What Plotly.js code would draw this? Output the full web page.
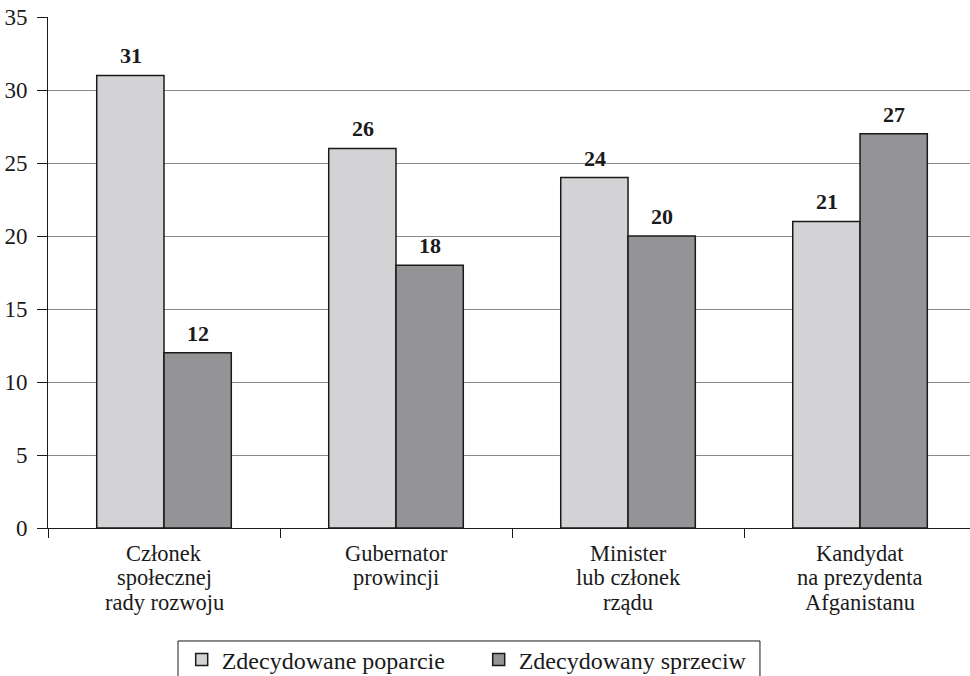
<!DOCTYPE html>
<html>
<head>
<meta charset="utf-8">
<script src="https://cdn.plot.ly/plotly-3.0.1.min.js"></script>
<style>html,body{margin:0;padding:0;background:#fff;overflow:hidden;}#chart{width:970px;height:690px;}</style>
</head>
<body>
<div id="chart"></div>
<script>
const categories = [
  "Członek<br>społecznej<br>rady rozwoju",
  "Gubernator<br>prowincji",
  "Minister<br>lub członek<br>rządu",
  "Kandydat<br>na prezydenta<br>Afganistanu"
];
const seriesNames = ["Zdecydowane poparcie", "Zdecydowany sprzeciw"];
const support = [31, 26, 24, 21];
const opposition = [12, 18, 20, 27];
const yTicks = [0, 5, 10, 15, 20, 25, 30, 35];

const font = "Liberation Serif";
const ink = "#1a1a1a";
const colors = ["#d3d3d5", "#949497"];

const traces = [support, opposition].map((vals, i) => ({
  type: "bar",
  name: seriesNames[i],
  x: categories,
  y: vals,
  marker: {color: colors[i], line: {color: ink, width: 1.5}},
  hoverinfo: "skip"
}));

const annotations = [];
// value labels above bars
[support, opposition].forEach((vals, i) => {
  vals.forEach((v, j) => {
    annotations.push({
      x: categories[j], y: v, xref: "x", yref: "y",
      text: "<b>" + v + "</b>", showarrow: false,
      xshift: i === 0 ? -33.5 : 33.5, yshift: 5, yanchor: "bottom",
      font: {family: font, size: 22, color: ink}
    });
  });
});
// category labels, one annotation per line for tight line spacing
categories.forEach((c) => {
  c.split("<br>").forEach((line, k) => {
    annotations.push({
      x: c, y: 0, xref: "x", yref: "y",
      text: line, showarrow: false, borderpad: 0,
      yanchor: "middle", yshift: -(25 + k * 24.5),
      font: {family: font, size: 22.5, color: ink}
    });
  });
});

const layout = {
  width: 970, height: 690,
  margin: {l: 48, r: 0, t: 17, b: 162},
  paper_bgcolor: "#fff", plot_bgcolor: "#fff",
  font: {family: font, size: 23, color: ink},
  barmode: "group",
  bargap: 0.42,
  bargroupgap: 0,
  xaxis: {
    type: "category",
    range: [-0.5, 3.474],
    showline: true, linecolor: ink, linewidth: 1,
    ticks: "outside", tickson: "boundaries", ticklen: 9, tickcolor: ink,
    showticklabels: false,
    showgrid: false, zeroline: false, fixedrange: true, automargin: false
  },
  yaxis: {
    range: [0, 35],
    tickvals: yTicks,
    ticktext: yTicks.map(String),
    showline: true, linecolor: ink, linewidth: 1,
    ticks: "outside", ticklen: 10, tickcolor: ink,
    ticklabelstandoff: 5,
    tickfont: {family: font, size: 23, color: ink},
    showgrid: true, gridcolor: "#8a8a8a", gridwidth: 1,
    zeroline: false, fixedrange: true, automargin: false
  },
  showlegend: true,
  legend: {
    orientation: "h",
    x: 0.145, xanchor: "left",
    y: -0.214, yanchor: "top",
    borderwidth: 0, bgcolor: "rgba(0,0,0,0)",
    font: {family: font, size: 24, color: ink},
    traceorder: "normal",
    entrywidthmode: "pixels",
    entrywidth: 252,
    itemwidth: 30
  },
  shapes: [{
    type: "rect", xref: "paper", yref: "paper",
    x0: 0.141, x1: 0.7722, y0: -0.2211, y1: -0.32,
    line: {color: ink, width: 1}, fillcolor: "rgba(0,0,0,0)", layer: "above"
  }],
  annotations: annotations
};

Plotly.newPlot("chart", traces, layout, {displayModeBar: false, staticPlot: true});
</script>
</body>
</html>
